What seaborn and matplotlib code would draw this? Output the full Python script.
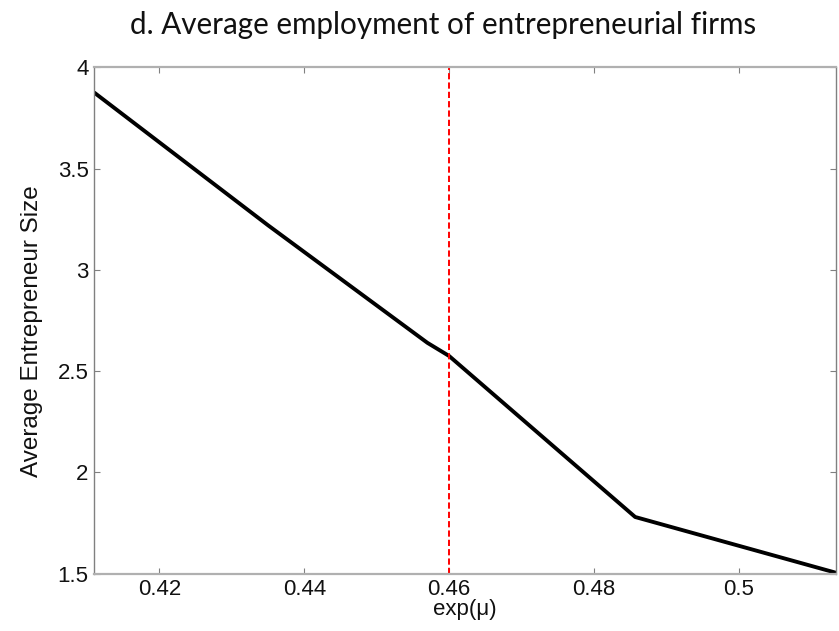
import matplotlib
matplotlib.use("Agg")
import matplotlib.pyplot as plt
import pandas as pd
import seaborn as sns

# valores
exp_mu = [0.4110, 0.4350, 0.4570, 0.4600, 0.4857, 0.5134]
tamanho_medio = [3.875, 3.22, 2.64, 2.575, 1.78, 1.505]
x_ticks = [0.42, 0.44, 0.46, 0.48, 0.5]
x_tick_labels = ["0.42", "0.44", "0.46", "0.48", "0.5"]
y_ticks = [1.5, 2, 2.5, 3, 3.5, 4]
y_tick_labels = ["1.5", "2", "2.5", "3", "3.5", "4"]
linha_ref = 0.46

df = pd.DataFrame({"exp_mu": exp_mu, "tamanho": tamanho_medio})

sns.set_theme(style="ticks")
plt.rcParams["font.family"] = ["Liberation Sans", "DejaVu Sans"]

fig = plt.figure(figsize=(8.39, 6.31), dpi=100)
ax = fig.add_axes([0.1124, 0.0908, 0.9961 - 0.1124, 0.8933 - 0.0908])

sns.lineplot(data=df, x="exp_mu", y="tamanho", color="black", linewidth=2.8, ax=ax)
ax.axvline(linha_ref, color="#ff0000", linewidth=1.4, linestyle=(0, (3.2, 1.6)))

ax.set_xlim(0.4110, 0.5134)
ax.set_ylim(1.5, 4)
ax.set_xticks(x_ticks)
ax.set_xticklabels(x_tick_labels)
ax.set_yticks(y_ticks)
ax.set_yticklabels(y_tick_labels)

for s in ax.spines.values():
    s.set_visible(True)
    s.set_color("#808080")
    s.set_linewidth(1.0)
ax.spines["bottom"].set_color("#b0b0b0")
ax.spines["bottom"].set_linewidth(1.6)
ax.spines["top"].set_color("#b0b0b0")
ax.spines["top"].set_linewidth(1.6)

ax.tick_params(direction="in", top=True, right=True, length=4, width=0.8,
               color="#808080", labelsize=16, labelcolor="#111111", pad=4)

ax.set_xlabel("exp(μ)", fontsize=16, labelpad=-1, color="#111111")
ax.set_ylabel("Average Entrepreneur Size", fontsize=17.5, color="#111111")
ax.yaxis.set_label_coords(-0.069, 0.48)

fig.suptitle("d. Average employment of entrepreneurial firms", x=0.5286, y=0.983,
             fontsize=21.3, family=["Lato", "DejaVu Sans"], color="#111111")

fig.savefig("out.png", dpi=100)
